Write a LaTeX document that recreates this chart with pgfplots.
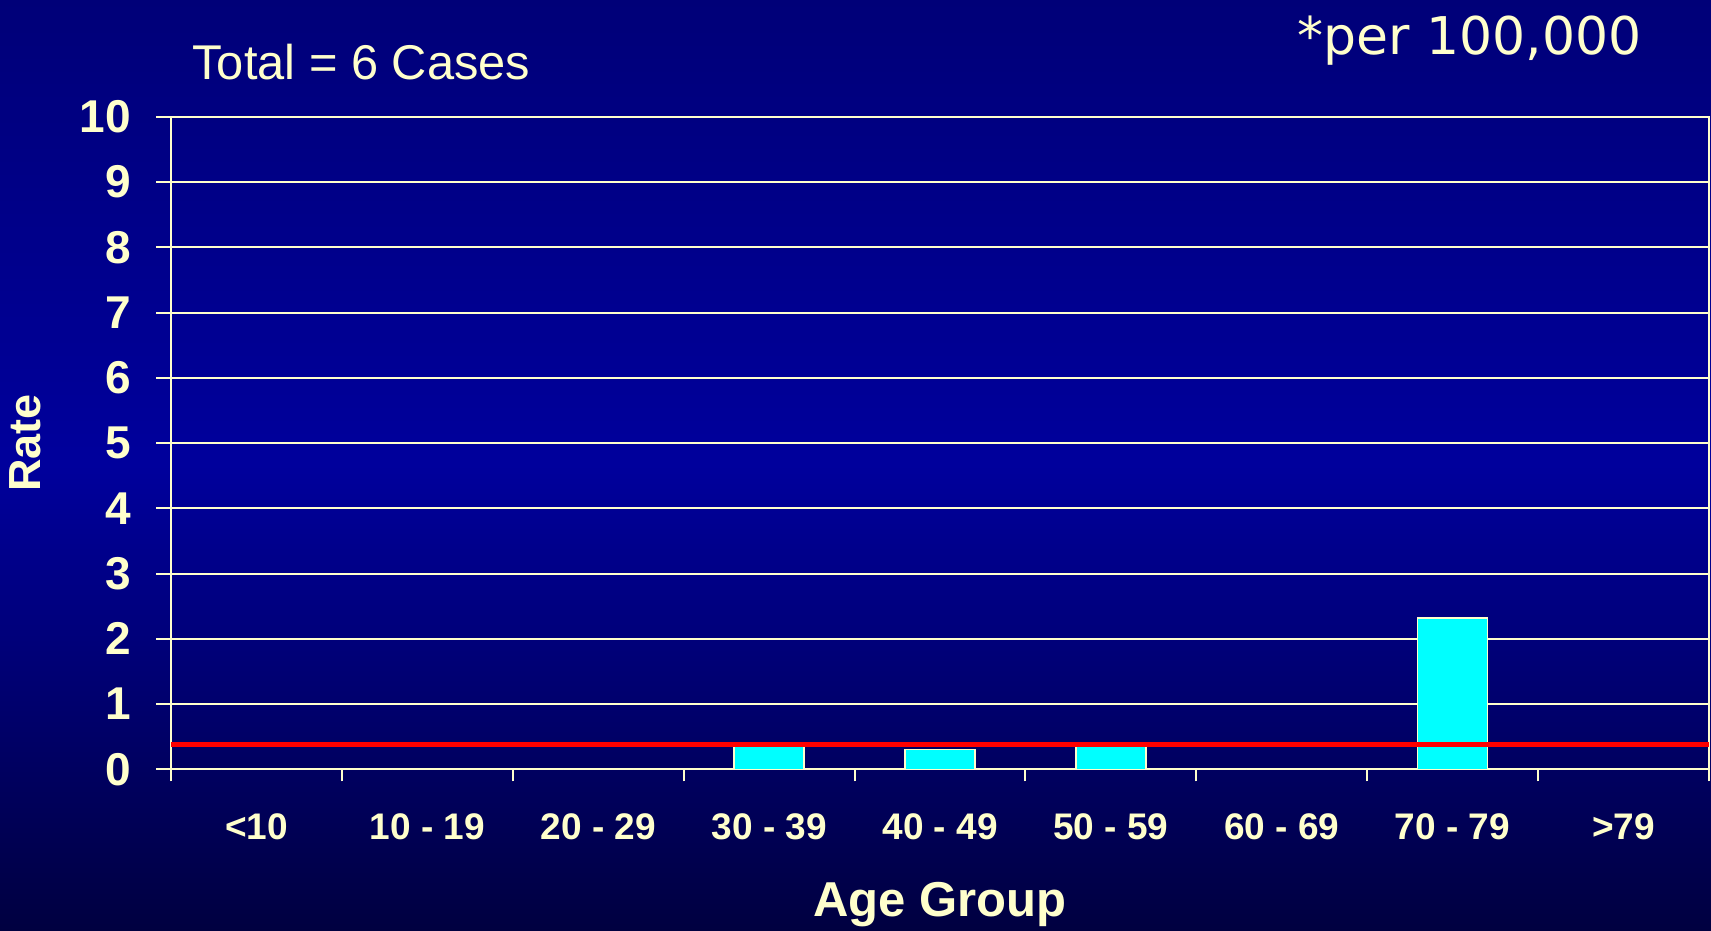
\documentclass[border=0pt]{standalone}
\usepackage{fontspec}
\setmainfont{Liberation Sans}
\newfontfamily\dejavu{DejaVu Sans}
\usepackage{pgfplots}
\pgfplotsset{compat=1.18}
\definecolor{cream}{HTML}{FFFFCC}
\definecolor{bgtop}{HTML}{000078}
\definecolor{bgmid}{HTML}{00009C}
\definecolor{bgbot}{HTML}{000040}
\definecolor{barcyan}{HTML}{00FFFF}
\begin{document}
\begin{tikzpicture}
\shade[top color=bgtop, bottom color=bgbot, middle color=bgmid] (-85.65bp,-80.85bp) rectangle (769.85bp,384.65bp);
\useasboundingbox (-85.65bp,-80.85bp) rectangle (769.85bp,384.65bp);
\begin{axis}[
  at={(0,0)}, anchor=south west,
  scale only axis, width=768.75bp, height=326.25bp,
  xmin=-0.5, xmax=8.5, ymin=0, ymax=10,
  xtick={0,...,8},
  xticklabels={<10, 10 - 19, 20 - 29, 30 - 39, 40 - 49, 50 - 59, 60 - 69, 70 - 79, >79},
  minor xtick={-0.5,0.5,...,8.5},
  ytick={0,...,10},
  tick pos=left, tick align=outside,
  major tick length=7.5bp, minor tick length=6bp,
  xtick style={draw=none},
  minor x tick style={draw=cream, line width=1bp},
  ytick style={draw=cream, line width=1bp},
  ymajorgrids, grid style={cream, line width=1bp},
  axis line style={cream, line width=1bp},
  /pgf/number format/assume math mode=true,
  xticklabel style={font=\fontsize{18.5bp}{22bp}\selectfont\bfseries, text=cream, anchor=base, yshift=-27.4bp},
  yticklabel style={font=\fontsize{23bp}{27bp}\selectfont\bfseries, text=cream, anchor=east, inner sep=0pt, xshift=-12.4bp},
  xlabel={Age Group},
  xlabel style={font=\fontsize{24.5bp}{28bp}\selectfont\bfseries, text=cream, at={(rel axis cs:0.5,0)}, anchor=base, yshift=-73.7bp},
  ylabel={Rate},
  ylabel style={font=\fontsize{22.5bp}{26bp}\selectfont\bfseries, text=cream, at={(rel axis cs:-0.0952,0.5)}, anchor=center},
  clip=false,
]
\addplot[ybar, bar width=0.41, fill=barcyan, draw=cream, line width=0.75bp]
  coordinates {(0,0) (1,0) (2,0) (3,0.35) (4,0.30) (5,0.35) (6,0) (7,2.32) (8,0)};
\addplot[red, line width=2.5bp] coordinates {(-0.5,0.38) (8.5,0.38)};
\node[anchor=base west, text=cream, font=\fontsize{24.4bp}{28bp}\selectfont, inner sep=0pt]
  at ([xshift=10.4bp, yshift=18.4bp]rel axis cs:0,1) {Total = 6 Cases};
\node[anchor=base east, text=cream, font=\fontsize{26bp}{30bp}\selectfont\dejavu, inner sep=0pt]
  at ([xshift=-33.4bp, yshift=31bp]rel axis cs:1,1) {*per 100,000};
\end{axis}
\end{tikzpicture}
\end{document}
